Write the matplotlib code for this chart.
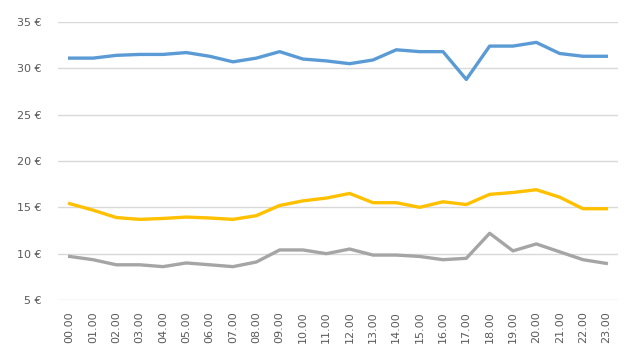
import matplotlib
matplotlib.use("Agg")
import matplotlib.pyplot as plt

hours = [f"{h:02d}.00" for h in range(24)]
blue = [31.1, 31.1, 31.4, 31.5, 31.5, 31.7, 31.3, 30.7, 31.1, 31.8, 31.0, 30.8,
        30.5, 30.9, 32.0, 31.8, 31.8, 28.8, 32.4, 32.4, 32.8, 31.6, 31.3, 31.3]
yellow = [15.4, 14.7, 13.9, 13.7, 13.8, 13.95, 13.85, 13.7, 14.1, 15.2, 15.7, 16.0,
          16.5, 15.5, 15.5, 15.0, 15.6, 15.3, 16.4, 16.6, 16.9, 16.1, 14.85, 14.85]
gray = [9.7, 9.35, 8.8, 8.8, 8.6, 9.0, 8.8, 8.6, 9.1, 10.4, 10.4, 10.0,
        10.5, 9.85, 9.85, 9.7, 9.35, 9.5, 12.2, 10.3, 11.05, 10.2, 9.35, 8.95]
yticks = [5, 10, 15, 20, 25, 30, 35]

fig = plt.figure(figsize=(6.4, 3.64), dpi=100)
ax = fig.add_axes([0.0906, 0.1758, 0.875, 0.7638])
x = list(range(len(hours)))
ax.plot(x, blue, color="#5B9BD5", lw=2.4, solid_joinstyle="round", zorder=3)
ax.plot(x, yellow, color="#FFC000", lw=2.4, solid_joinstyle="round", zorder=3)
ax.plot(x, gray, color="#A5A5A5", lw=2.4, solid_joinstyle="round", zorder=3)

ax.set_xlim(-0.5, 23.5)
ax.set_ylim(5, 35)
ax.set_yticks(yticks)
ax.set_yticklabels([f"{v} €" for v in yticks])
ax.set_xticks(x)
ax.set_xticklabels(hours, rotation=90)
ax.grid(axis="y", color="#D9D9D9", lw=1)
ax.set_axisbelow(True)
for s in ax.spines.values():
    s.set_visible(False)
ax.tick_params(axis="both", length=0, labelsize=8, labelcolor="#595959")
ax.tick_params(axis="y", pad=12)
ax.tick_params(axis="x", pad=8)
fig.savefig("out.png", dpi=100)
